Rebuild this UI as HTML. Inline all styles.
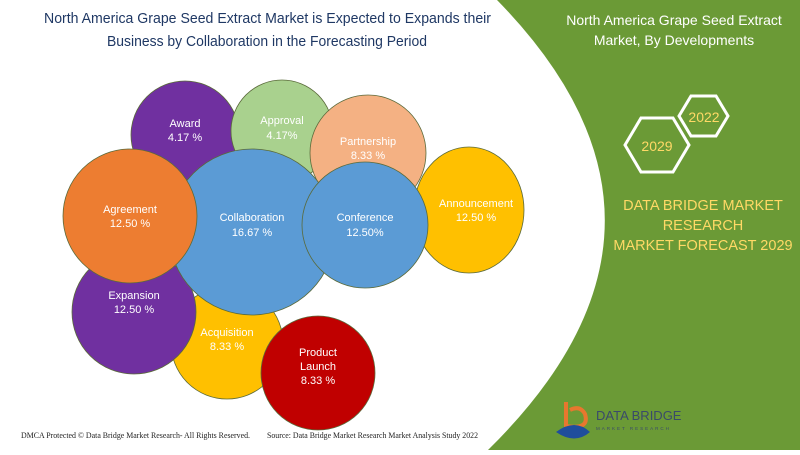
<!DOCTYPE html>
<html><head><meta charset="utf-8"><style>
body{margin:0;width:800px;height:450px;overflow:hidden;background:#fff;font-family:"Liberation Sans",sans-serif}
</style></head><body>
<svg width="800" height="450" xmlns="http://www.w3.org/2000/svg" font-family="Liberation Sans, sans-serif">
<rect width="800" height="450" fill="#fff"/>
<path d="M497,0 L800,0 L800,450 L488,450 Q717,225 497,0Z" fill="#6b9a36"/>
<text x="44" y="23" font-size="15" fill="#1f3864" textLength="447" lengthAdjust="spacingAndGlyphs">North America Grape Seed Extract Market is Expected to Expands their</text>
<text x="107" y="46" font-size="15" fill="#1f3864" textLength="320" lengthAdjust="spacingAndGlyphs">Business by Collaboration in the Forecasting Period</text>
<g stroke="#5a6a3a" stroke-width="0.8">
<circle cx="185" cy="135" r="54" fill="#7030a0"/>
<circle cx="282" cy="131" r="51" fill="#a9d18e"/>
<circle cx="368" cy="153" r="58" fill="#f4b183"/>
<ellipse cx="469" cy="210" rx="55" ry="63" fill="#ffc000"/>
<circle cx="227" cy="343" r="56" fill="#ffc000"/>
<circle cx="134" cy="312" r="62" fill="#7030a0"/>
<circle cx="252" cy="232" r="83" fill="#5b9bd5"/>
<circle cx="130" cy="216" r="67" fill="#ed7d31"/>
<circle cx="365" cy="225" r="63" fill="#5b9bd5"/>
<circle cx="318" cy="373" r="57" fill="#c00000"/>
</g>
<g fill="#fff" font-size="11" text-anchor="middle">
<text x="185" y="127">Award</text><text x="185" y="141">4.17 %</text>
<text x="282" y="124">Approval</text><text x="282" y="139">4.17%</text>
<text x="368" y="145">Partnership</text><text x="368" y="159">8.33 %</text>
<text x="476" y="207">Announcement</text><text x="476" y="221">12.50 %</text>
<text x="130" y="213">Agreement</text><text x="130" y="227">12.50 %</text>
<text x="252" y="221">Collaboration</text><text x="252" y="236">16.67 %</text>
<text x="365" y="221">Conference</text><text x="365" y="236">12.50%</text>
<text x="134" y="299">Expansion</text><text x="134" y="313">12.50 %</text>
<text x="227" y="336">Acquisition</text><text x="227" y="350">8.33 %</text>
<text x="318" y="356">Product</text><text x="318" y="370">Launch</text><text x="318" y="384">8.33 %</text>
</g>
<g font-family="Liberation Serif, serif" font-size="8.5" fill="#222">
<text x="21" y="438" textLength="229" lengthAdjust="spacingAndGlyphs">DMCA Protected © Data Bridge Market Research- All Rights Reserved.</text>
<text x="267" y="438" textLength="211" lengthAdjust="spacingAndGlyphs">Source: Data Bridge Market Research Market Analysis Study 2022</text>
</g>
<g fill="#fff" font-size="14" text-anchor="middle">
<text x="674" y="25">North America Grape Seed Extract</text>
<text x="674" y="45">Market, By Developments</text>
</g>
<g fill="none" stroke="#fff" stroke-width="3">
<polygon points="625,145 641,118 673,118 689,145 673,172 641,172"/>
<polygon points="679,116 691,96 716,96 728,116 716,136 691,136"/>
</g>
<g fill="#ffd966" font-size="14" text-anchor="middle">
<text x="657" y="151">2029</text>
<text x="704" y="122">2022</text>
</g>
<g fill="#ffd966" font-size="14.5" text-anchor="middle">
<text x="703" y="210">DATA BRIDGE MARKET</text>
<text x="703" y="230">RESEARCH</text>
<text x="703" y="250">MARKET FORECAST 2029</text>
</g>
<path d="M566,402 L566,426 Q590,430 585,414 Q580,405 570,410" fill="none" stroke="#e8772e" stroke-width="4"/>
<path d="M556,432 Q575,418 590,432 Q575,445 556,432Z" fill="#1f4e9c"/>
<text x="596" y="420" font-size="13" fill="#3a4a6a">DATA BRIDGE</text>
<text x="596" y="430" font-size="4.5" fill="#3a4a6a" letter-spacing="2">MARKET RESEARCH</text>
</svg>
</body></html>
